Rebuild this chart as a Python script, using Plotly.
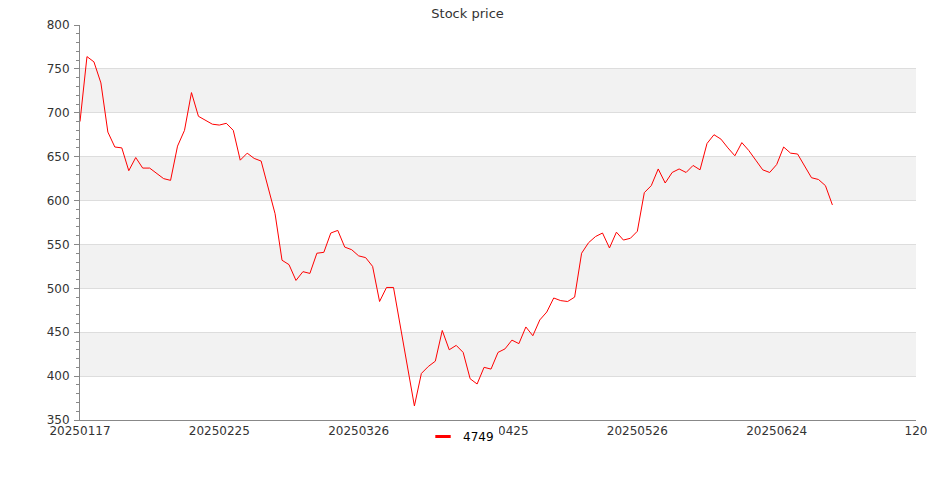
import plotly.graph_objects as go

series_name = "4749"
prices = [
    690, 764, 758, 734, 678, 661, 660, 634, 649, 637,
    637, 631, 625, 623, 662, 680, 723, 696, 691, 687,
    686, 688, 680, 646, 654, 648, 645, 616, 585, 532,
    527, 509, 519, 517, 540, 541, 563, 566, 547, 544,
    537, 535, 525, 485, 501, 501, 456, 410, 366, 403,
    411, 417, 452, 430, 435, 427, 397, 391, 410, 408,
    427, 431, 441, 437, 456, 446, 464, 473, 489, 486,
    485, 490, 540, 552, 559, 563, 546, 564, 555, 557,
    565, 609, 617, 636, 620, 632, 636, 632, 640, 635,
    665, 675, 670, 660, 651, 666, 657, 646, 635, 632,
    641, 661, 654, 653, 640, 626, 624, 617, 595,
]
tick_labels = ["20250117", "20250225", "20250326", "20250425",
               "20250526", "20250624", "120"]

x_idx = list(range(len(prices)))
tick_step = 20
tickvals = [i * tick_step for i in range(len(tick_labels))]

fig = go.Figure()
fig.add_trace(go.Scatter(x=x_idx, y=prices, mode="lines",
                         line=dict(color="#ff0000", width=1),
                         showlegend=False, hoverinfo="x+y"))
fig.add_trace(go.Scatter(x=[None], y=[None], mode="markers", name=series_name,
                         marker=dict(symbol="line-ew", size=11,
                                     line=dict(color="#ff0000", width=3))))

# alternating bands
shapes = []
for lo in range(400, 800, 100):
    shapes.append(dict(type="rect", xref="paper", x0=0, x1=1, yref="y",
                       y0=lo, y1=lo + 50, fillcolor="#f2f2f2",
                       line=dict(width=0), layer="below"))

fig.update_layout(
    width=935, height=500,
    margin=dict(l=72, r=27, t=17, b=88, autoexpand=False),
    paper_bgcolor="white", plot_bgcolor="white",
    font=dict(family="DejaVu Sans", size=12, color="#333333"),
    title=dict(text="Stock price", x=0.4915, xref="container", xanchor="center",
               y=0.99, yref="container", yanchor="middle",
               font=dict(size=13, color="#333333")),
    shapes=shapes,
    showlegend=True,
    legend=dict(orientation="h", xref="container", yref="container",
                x=0.4845, xanchor="center", y=0.172, yanchor="top",
                bgcolor="#ffffff", borderwidth=0,
                font=dict(size=12, color="#000000")),
    xaxis=dict(range=[0, 120], tickmode="array", tickvals=tickvals,
               ticktext=tick_labels, showgrid=False, zeroline=False,
               showline=True, linecolor="#888888", linewidth=1,
               ticks="", automargin=False,
               tickfont=dict(size=12, color="#333333")),
    yaxis=dict(range=[350, 800], dtick=50, tick0=350, showgrid=True,
               gridcolor="#dddddd", gridwidth=1, zeroline=False,
               showline=True, linecolor="#888888", linewidth=1,
               ticks="outside", ticklen=5, tickcolor="#888888",
               automargin=False, ticklabelstandoff=2,
               minor=dict(dtick=10, ticks="outside", ticklen=3,
                          tickcolor="#888888", showgrid=False),
               tickfont=dict(size=12, color="#333333")),
)

fig.write_html("out.html")
